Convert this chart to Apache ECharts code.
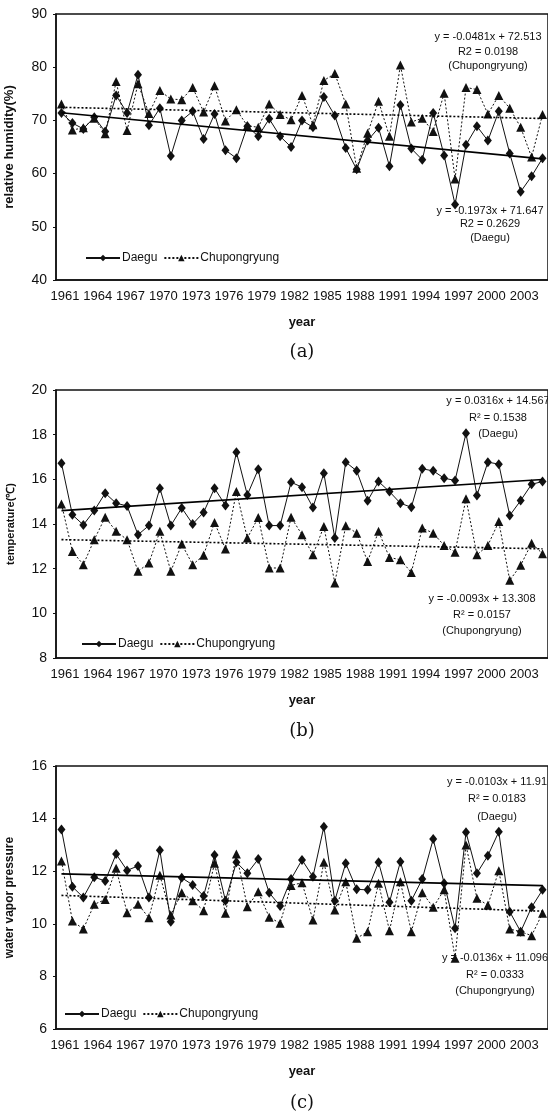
<!DOCTYPE html>
<html>
<head>
<meta charset="utf-8">
<script src="https://cdn.jsdelivr.net/npm/echarts@6/dist/echarts.min.js"></script>
<style>
  html, body { margin: 0; padding: 0; background: #fff; }
  #chart { width: 548px; height: 1115px; }
</style>
</head>
<body>
<div id="chart"></div>
<script>
// categories
var years = ['1961','1962','1963','1964','1965','1966','1967','1968','1969','1970',
  '1971','1972','1973','1974','1975','1976','1977','1978','1979','1980',
  '1981','1982','1983','1984','1985','1986','1987','1988','1989','1990',
  '1991','1992','1993','1994','1995','1996','1997','1998','1999','2000',
  '2001','2002','2003','2004','2005'];

// (a) relative humidity (%)
var rhDaegu = [71.4, 69.5, 68.4, 70.6, 67.9, 74.7, 71.4, 78.6, 69.1, 72.3,
  63.3, 70.0, 71.7, 66.5, 71.2, 64.4, 62.9, 68.9, 67.0, 70.3,
  67.0, 65.0, 70.0, 68.7, 74.4, 70.9, 64.8, 60.8, 66.2, 68.6,
  61.4, 72.9, 64.7, 62.6, 71.4, 63.4, 54.2, 65.4, 68.9, 66.2,
  71.7, 63.8, 56.6, 59.5, 62.9];
var rhChup = [73.1, 68.2, 68.6, 70.4, 67.5, 77.3, 68.1, 76.9, 71.3, 75.6,
  74.0, 73.9, 76.2, 71.6, 76.5, 69.9, 72.0, 69.0, 68.7, 73.1,
  71.1, 70.1, 74.7, 69.2, 77.5, 78.8, 73.1, 61.0, 67.6, 73.6,
  67.0, 80.4, 69.7, 70.4, 67.9, 75.1, 59.0, 76.2, 75.8, 71.2,
  74.7, 72.3, 68.7, 63.1, 71.1];
// trend line ends [1961, 2005]
var rhDaeguTrend = [71.45, 62.77];
var rhChupTrend = [72.46, 70.35];

// (b) temperature
var tDaegu = [16.72, 14.41, 13.96, 14.6, 15.38, 14.93, 14.81, 13.52, 13.93, 15.6,
  13.93, 14.72, 14.0, 14.52, 15.6, 14.83, 17.21, 15.3, 16.45, 13.93,
  13.93, 15.87, 15.65, 14.74, 16.27, 13.37, 16.77, 16.38, 15.04, 15.9,
  15.45, 14.93, 14.75, 16.47, 16.38, 16.05, 15.95, 18.06, 15.28, 16.77,
  16.68, 14.38, 15.05, 15.78, 15.9];
var tChup = [14.9, 12.77, 12.18, 13.3, 14.3, 13.67, 13.3, 11.88, 12.25, 13.67,
  11.88, 13.1, 12.18, 12.6, 14.07, 12.88, 15.45, 13.37, 14.29, 12.03,
  12.03, 14.3, 13.52, 12.62, 13.89, 11.36, 13.92, 13.59, 12.32, 13.67,
  12.5, 12.4, 11.83, 13.82, 13.59, 13.04, 12.74, 15.13, 12.62, 13.04,
  14.11, 11.48, 12.15, 13.14, 12.67];
var tDaeguTrend = [14.60, 15.99];
var tChupTrend = [13.30, 12.89];

// (c) water vapor pressure
var vpDaegu = [13.59, 11.41, 11.0, 11.77, 11.63, 12.65, 12.03, 12.2, 11.0, 12.8,
  10.08, 11.75, 11.48, 11.06, 12.62, 10.88, 12.34, 11.92, 12.46, 11.18,
  10.68, 11.7, 12.43, 11.79, 13.69, 10.88, 12.3, 11.31, 11.29, 12.34,
  10.82, 12.36, 10.88, 11.7, 13.22, 11.54, 9.83, 13.48, 11.92, 12.59,
  13.5, 10.46, 9.7, 10.63, 11.29];
var vpChup = [12.39, 10.11, 9.8, 10.74, 10.92, 12.11, 10.42, 10.74, 10.23, 11.85,
  10.33, 11.18, 10.88, 10.5, 12.3, 10.4, 12.65, 10.65, 11.22, 10.25,
  10.02, 11.46, 11.56, 10.14, 12.34, 10.52, 11.6, 9.45, 9.7, 11.54,
  9.74, 11.6, 9.7, 11.18, 10.63, 11.29, 8.69, 13.0, 10.97, 10.71,
  12.02, 9.8, 9.7, 9.55, 10.4];
var vpDaeguTrend = [11.90, 11.45];
var vpChupTrend = [11.08, 10.48];

var FONT = 'Liberation Sans, Arial, sans-serif';
var INK = '#111';

function xAxisFor(i) {
  return {
    type: 'category', gridIndex: i, data: years,
    name: 'year', nameLocation: 'middle', nameGap: 36,
    nameTextStyle: { fontFamily: FONT, fontWeight: 'bold', fontSize: 13, color: INK },
    axisLine: { lineStyle: { color: INK, width: 1.5 } },
    axisTick: { inside: true, length: 4, interval: 0, lineStyle: { color: INK } },
    axisLabel: { interval: 2, fontFamily: FONT, fontSize: 13, color: INK, margin: 10,
      padding: [0, 0, 0, 7] }
  };
}
function yAxisFor(i, name, min, max, step, nameSize) {
  return {
    type: 'value', gridIndex: i, min: min, max: max, interval: step,
    name: name, nameLocation: 'middle', nameGap: 40, nameRotate: 90,
    nameTextStyle: { fontFamily: FONT, fontWeight: 'bold', fontSize: nameSize, color: INK },
    axisLine: { show: true, lineStyle: { color: INK, width: 1.5 } },
    axisTick: { show: true, length: 3, lineStyle: { color: INK } },
    axisLabel: { fontFamily: FONT, fontSize: 14, color: INK, margin: 9 },
    splitLine: { show: false }
  };
}
function trend(ends, type) {
  return {
    silent: true, symbol: 'none',
    label: { show: false },
    lineStyle: { color: '#000', width: 1.6, type: type },
    data: [[{ coord: [years[0], ends[0]] }, { coord: [years[years.length - 1], ends[1]] }]]
  };
}
function seriesFor(i, dData, cData, dTrend, cTrend) {
  return [{
    name: 'Daegu', type: 'line', xAxisIndex: i, yAxisIndex: i, data: dData,
    symbol: 'diamond', symbolSize: [8, 10], showAllSymbol: true, z: 4,
    itemStyle: { color: INK },
    lineStyle: { color: INK, width: 1 },
    markLine: trend(dTrend, 'solid')
  }, {
    name: 'Chupongryung', type: 'line', xAxisIndex: i, yAxisIndex: i, data: cData,
    symbol: 'triangle', symbolSize: [9, 9], showAllSymbol: true, z: 3,
    itemStyle: { color: INK },
    lineStyle: { color: INK, width: 1, type: [2, 2] },
    markLine: trend(cTrend, [2, 2])
  }];
}
function legendFor(left, top) {
  return {
    left: left, top: top, itemWidth: 34, itemHeight: 8, itemGap: 6,
    data: ['Daegu', 'Chupongryung'],
    textStyle: { fontFamily: FONT, fontSize: 12, color: INK, padding: [0, 0, 0, -3] }
  };
}
function note(x, y, text, lh) {
  return {
    type: 'text', x: x, y: y, silent: true,
    style: { text: text, textAlign: 'center', textVerticalAlign: 'top',
      font: '11px ' + FONT, fill: INK, lineHeight: lh }
  };
}
function panelLabel(x, y, text) {
  return {
    type: 'text', x: x, y: y, silent: true,
    style: { text: text, textAlign: 'center', textVerticalAlign: 'middle',
      font: '18px DejaVu Serif, Liberation Serif, serif', fill: INK }
  };
}

var gridBase = { left: 56, width: 492, show: true, borderColor: INK, borderWidth: 1.5,
  containLabel: false, outerBoundsMode: 'none' };

var chart = echarts.init(document.getElementById('chart'), null, { renderer: 'canvas' });
chart.setOption({
  backgroundColor: '#fff',
  animation: false,
  grid: [
    Object.assign({}, gridBase, { top: 14, height: 266 }),
    Object.assign({}, gridBase, { top: 390, height: 268 }),
    Object.assign({}, gridBase, { top: 766, height: 263 })
  ],
  legend: [legendFor(80, 247), legendFor(76, 633), legendFor(59, 1003)],
  xAxis: [xAxisFor(0), xAxisFor(1), xAxisFor(2)],
  yAxis: [
    yAxisFor(0, 'relative humidity(%)', 40, 90, 10, 13),
    yAxisFor(1, 'temperature(℃)', 8, 20, 2, 11),
    yAxisFor(2, 'water vapor pressure', 6, 16, 2, 12)
  ],
  series: [].concat(
    seriesFor(0, rhDaegu, rhChup, rhDaeguTrend, rhChupTrend),
    seriesFor(1, tDaegu, tChup, tDaeguTrend, tChupTrend),
    seriesFor(2, vpDaegu, vpChup, vpDaeguTrend, vpChupTrend)
  ),
  graphic: [
    note(488, 30, 'y = -0.0481x + 72.513\nR2 = 0.0198\n(Chupongryung)', 14.5),
    note(490, 204, 'y = -0.1973x + 71.647\nR2 = 0.2629\n(Daegu)', 13.5),
    note(498, 393, 'y = 0.0316x + 14.567\nR² = 0.1538\n(Daegu)', 16.5),
    note(482, 591, 'y = -0.0093x + 13.308\nR² = 0.0157\n(Chupongryung)', 16),
    note(497, 773, 'y = -0.0103x + 11.91\nR² = 0.0183\n(Daegu)', 17.5),
    note(495, 950, 'y = -0.0136x + 11.096\nR² = 0.0333\n(Chupongryung)', 16.5),
    panelLabel(302, 352, '(a)'),
    panelLabel(302, 731, '(b)'),
    panelLabel(302, 1103, '(c)')
  ]
});
</script>
</body>
</html>
